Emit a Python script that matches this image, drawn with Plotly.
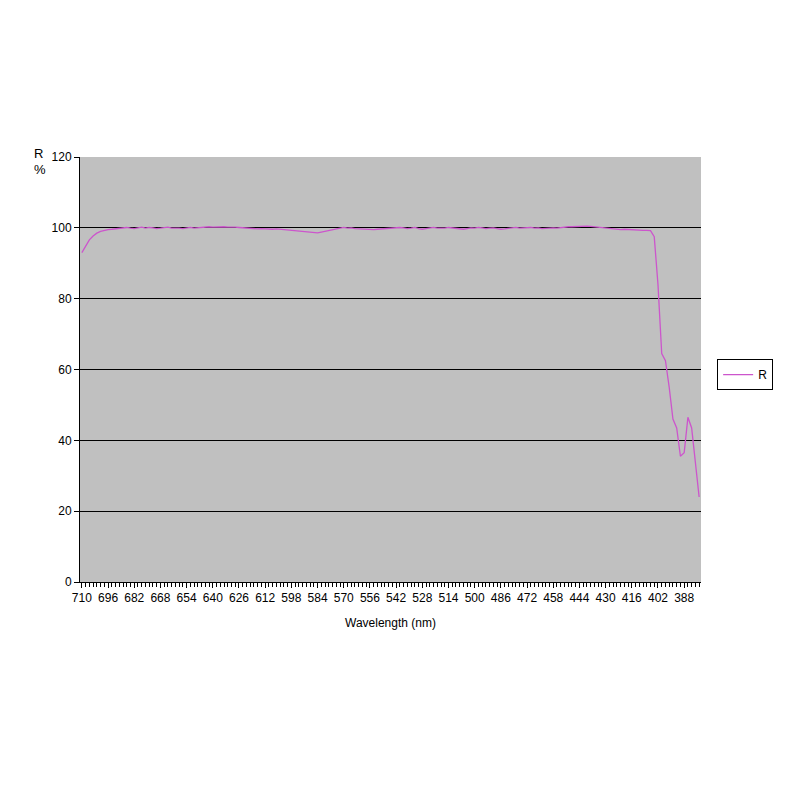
import numpy as np
import plotly.graph_objects as go

# longueurs d'onde (nm), de 710 à 380 par pas de 2
wavelength = list(range(710, 378, -2))

# réflexion R (%)
r_710_692 = [93.0, 95.0, 96.6, 97.7, 98.5, 99.0, 99.3, 99.5, 99.6, 99.7]
r_690_660 = [99.8, 99.9, 100.1, 99.9, 99.8, 100.0, 100.2, 99.9, 100.1, 100.0,
             99.8, 99.9, 100.1, 100.2, 99.9, 100.0]
r_658_630 = [99.9, 99.8, 100.0, 100.1, 99.9, 100.0, 100.2, 100.3, 100.3, 100.2,
             100.3, 100.4, 100.3, 100.2, 100.3]
r_628_600 = [100.2, 100.1, 100.0, 99.9, 99.8, 99.7, 99.7, 99.8, 99.7, 99.7,
             99.6, 99.7, 99.6, 99.5, 99.6]
r_598_570 = [99.5, 99.4, 99.3, 99.1, 98.9, 98.8, 98.7, 98.6, 98.8, 99.0,
             99.2, 99.5, 99.8, 100.0, 100.1]
r_568_540 = [99.9, 100.0, 99.8, 99.7, 99.6, 99.5, 99.6, 99.5, 99.6, 99.7,
             99.8, 99.9, 100.0, 99.9, 100.1]
r_538_510 = [100.0, 99.8, 99.9, 100.1, 99.8, 99.6, 99.8, 100.0, 100.1, 99.9,
             99.8, 99.9, 100.1, 100.0, 99.8]
r_508_480 = [99.7, 99.6, 99.8, 100.0, 99.9, 100.1, 100.0, 99.8, 99.9, 100.0,
             99.8, 99.6, 99.7, 99.9, 100.0]
r_478_450 = [100.1, 99.9, 100.0, 100.2, 100.1, 99.9, 100.0, 99.8, 99.9, 100.1,
             100.0, 99.9, 100.1, 100.2, 100.3]
r_448_420 = [100.3, 100.4, 100.5, 100.4, 100.5, 100.4, 100.3, 100.2, 100.0, 99.8,
             99.7, 99.6, 99.6, 99.5, 99.6]
r_418_406 = [99.5, 99.4, 99.5, 99.4, 99.3, 99.3, 99.2]
r_404_380 = [97.5, 84.0, 64.5, 62.5, 55.0, 46.0, 43.5, 35.5, 36.5, 46.5, 43.5, 33.0, 24.0]

R = (r_710_692 + r_690_660 + r_658_630 + r_628_600 + r_598_570 + r_568_540
     + r_538_510 + r_508_480 + r_478_450 + r_448_420 + r_418_406 + r_404_380)

tick_labels = list(range(710, 387, -14))

fig = go.Figure()
fig.add_trace(go.Scatter(x=wavelength, y=R, name='R', mode='lines',
                         line=dict(color='#cc55cc', width=1.3)))

fig.update_layout(
    width=800, height=800,
    paper_bgcolor='white',
    plot_bgcolor='#c0c0c0',
    font=dict(family='Liberation Sans, Arial', size=12, color='black'),
    margin=dict(l=72, r=107, t=149, b=226),
    showlegend=True,
    legend=dict(x=1.026, y=0.488, xanchor='left', yanchor='middle',
                bordercolor='black', borderwidth=1, bgcolor='white',
                font=dict(size=12), itemwidth=30,
                tracegroupgap=0),
    xaxis=dict(
        range=[711, 379],
        tickmode='array', tickvals=tick_labels,
        ticks='outside', ticklen=5, tickcolor='black',
        minor=dict(dtick=2, tick0=710, ticks='outside', ticklen=4,
                   tickcolor='black', showgrid=False),
        showgrid=False, zeroline=False,
        showline=True, linecolor='black', linewidth=1,
        title=dict(text='Wavelength (nm)', font=dict(size=12), standoff=14),
    ),
    yaxis=dict(
        range=[0, 120], dtick=20,
        ticks='outside', ticklen=5, tickcolor='black',
        showgrid=True, gridcolor='black', gridwidth=1,
        zeroline=False,
        showline=True, linecolor='black', linewidth=1,
    ),
    annotations=[
        dict(xref='paper', yref='paper', x=-0.078, y=1.0, yshift=13,
             text='R', showarrow=False, font=dict(size=13)),
        dict(xref='paper', yref='paper', x=-0.078, y=1.0, yshift=-3,
             text='%', showarrow=False, font=dict(size=13)),
    ],
)

fig.write_html("out.html")
